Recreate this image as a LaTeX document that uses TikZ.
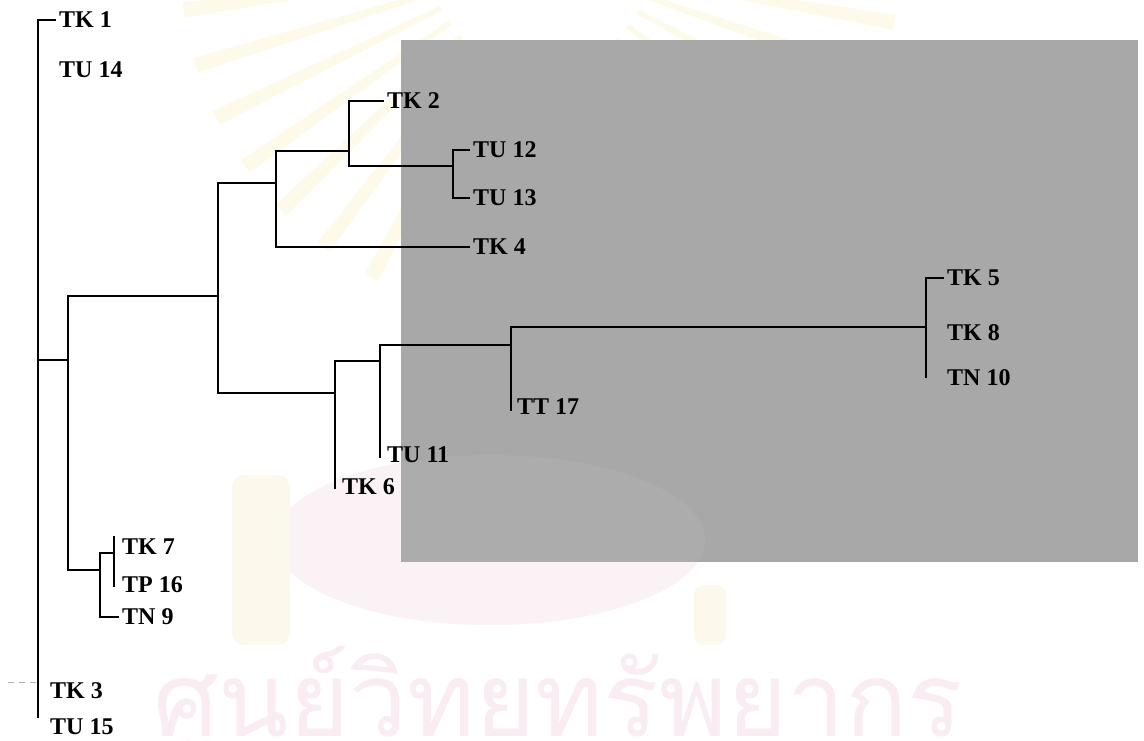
\documentclass[tikz,border=0pt]{standalone}
\usepackage{fontspec}
\usepackage{graphicx}
\usetikzlibrary{calc}
\setmainfont{Liberation Serif}
\newfontfamily\thaifont[Script=Thai]{Loma}

\definecolor{panelgray}{RGB}{168,168,168}
\definecolor{rayyellow}{RGB}{253,250,234}
\definecolor{markpink}{RGB}{251,242,246}
\definecolor{letterpink}{RGB}{249,236,243}
\definecolor{tasselyellow}{RGB}{252,249,236}

\begin{document}
\begin{tikzpicture}[x=1pt,y=-1pt,
  branch/.style={line width=2.7pt, line cap=rect, line join=miter},
  leaf/.style={anchor=west, inner xsep=4pt, inner ysep=0pt,
               font=\bfseries\fontsize{24}{24}\selectfont},
  ray/.style={fill=rayyellow},
]
\useasboundingbox (0,0) rectangle (1144,741);
\fill[white] (0,0) rectangle (1144,741);

% faint emblem in the page background
\coordinate (sun) at (540,-40);
\foreach \a in {10,19,...,178}{
  \fill[ray] ($(sun)+(\a-1.2:110)$) -- ($(sun)+(\a-1.2:360)$)
     -- ($(sun)+(\a+1.2:360)$) -- ($(sun)+(\a+1.2:110)$) -- cycle;
}
\fill[markpink] (490,540) ellipse [x radius=215, y radius=85];
\fill[tasselyellow, rounded corners=12pt] (232,475) rectangle (290,645);
\fill[tasselyellow, rounded corners=10pt] (694,585) rectangle (726,645);

% grey panel
\fill[panelgray] (401,40) rectangle (1138,562);
\fill[markpink, opacity=0.06] (490,540) ellipse [x radius=215, y radius=85];

% watermark lettering
\node[anchor=north west, inner sep=0pt, text=letterpink] (wm) at (153,646)
  {\resizebox{810pt}{!}{\thaifont ศูนย์วิทยทรัพยากร}};

% scan mark at the left edge
\draw[gray!60, line width=1pt, dash pattern=on 6pt off 5pt] (8,682) -- (36,682);

% leaf labels
\node[leaf] (TK1)  at (55,20)   {TK 1};
\node[leaf] (TU14) at (55,70)   {TU 14};
\node[leaf] (TK2)  at (383,101) {TK 2};
\node[leaf] (TU12) at (469,150) {TU 12};
\node[leaf] (TU13) at (469,198) {TU 13};
\node[leaf] (TK4)  at (469,247) {TK 4};
\node[leaf] (TK5)  at (943,278) {TK 5};
\node[leaf] (TK8)  at (943,333) {TK 8};
\node[leaf] (TN10) at (943,378) {TN 10};
\node[leaf] (TT17) at (513,407) {TT 17};
\node[leaf] (TU11) at (383,455) {TU 11};
\node[leaf] (TK6)  at (338,487) {TK 6};
\node[leaf] (TK7)  at (118,547) {TK 7};
\node[leaf] (TP16) at (118,585) {TP 16};
\node[leaf] (TN9)  at (118,617) {TN 9};
\node[leaf] (TK3)  at (46,691)  {TK 3};
\node[leaf] (TU15) at (46,727)  {TU 15};

% internal junctions of the tree
\coordinate (r)  at (38,360);
\coordinate (rb) at (38,717);
\coordinate (a)  at (68,360);
\coordinate (b)  at (218,296);
\coordinate (c)  at (276,183);
\coordinate (d)  at (349,151);
\coordinate (e)  at (453,166);
\coordinate (f)  at (335,393);
\coordinate (fb) at (335,488);
\coordinate (g)  at (380,361);
\coordinate (gb) at (380,457);
\coordinate (h)  at (511,345);
\coordinate (hb) at (511,410);
\coordinate (i)  at (926,327);
\coordinate (ib) at (926,377);
\coordinate (j)  at (100,570);
\coordinate (k)  at (114,553);
\coordinate (kt) at (114,537);
\coordinate (kb) at (114,586);

% branches
\draw[branch] (TK1.west) -| (rb);
\draw[branch] (r) -- (a);
\draw[branch] (a) |- (b);
\draw[branch] (a) |- (j);
\draw[branch] (b) |- (c);
\draw[branch] (b) |- (f);
\draw[branch] (c) |- (d);
\draw[branch] (c) |- (TK4.west);
\draw[branch] (d) |- (TK2.west);
\draw[branch] (d) |- (e);
\draw[branch] (e) |- (TU12.west);
\draw[branch] (e) |- (TU13.west);
\draw[branch] (f) |- (g);
\draw[branch] (f) -- (fb);
\draw[branch] (g) |- (h);
\draw[branch] (g) -- (gb);
\draw[branch] (h) |- (i);
\draw[branch] (h) -- (hb);
\draw[branch] (i) |- (TK5.west);
\draw[branch] (i) -- (ib);
\draw[branch] (j) |- (k);
\draw[branch] (j) |- (TN9.west);
\draw[branch] (kt) -- (kb);
\end{tikzpicture}
\end{document}
